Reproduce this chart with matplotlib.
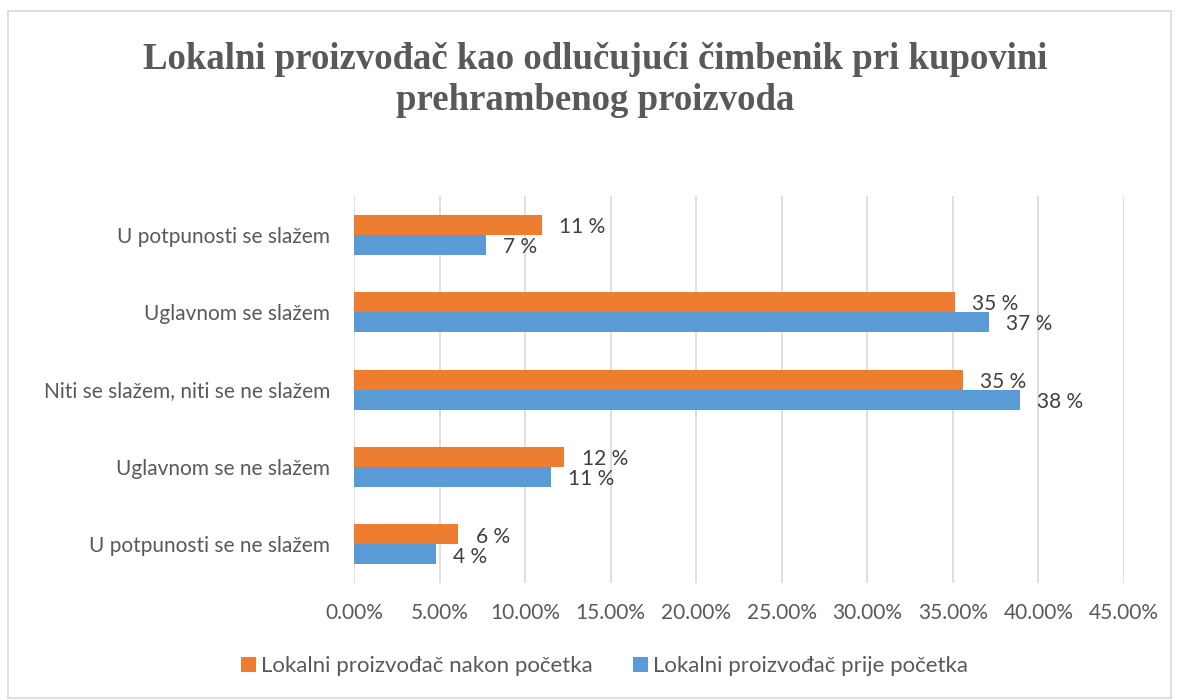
import matplotlib.pyplot as plt
import numpy as np
from matplotlib.patches import Rectangle

categories = ['U potpunosti se slažem', 'Uglavnom se slažem', 'Niti se slažem, niti se ne slažem',
              'Uglavnom se ne slažem', 'U potpunosti se ne slažem']
nakon = [11.0, 35.1, 35.6, 12.3, 6.1]
prije = [7.7, 37.1, 38.9, 11.5, 4.8]
nakon_labels = ['11 %', '35 %', '35 %', '12 %', '6 %']
prije_labels = ['7 %', '37 %', '38 %', '11 %', '4 %']
xticks = [0, 5, 10, 15, 20, 25, 30, 35, 40, 45]

orange = '#ED7D31'
blue = '#5B9BD5'
gray = '#595959'
plt.rcParams['font.family'] = ['Lato', 'DejaVu Sans']

fig = plt.figure(figsize=(11.79, 7), dpi=100)
ax = fig.add_axes([0.3003, 0.167, 0.653, 0.553])

y = np.arange(len(categories))
h = 0.258
ax.barh(y - h / 2, nakon, height=h, color=orange, label='Lokalni proizvođač nakon početka', zorder=3)
ax.barh(y + h / 2, prije, height=h, color=blue, label='Lokalni proizvođač prije početka', zorder=3)

for i in range(len(categories)):
    ax.text(nakon[i] + 1.0, y[i] - h / 2 + 0.03, nakon_labels[i], va='center', ha='left',
            fontsize=15, color='#404040')
    ax.text(prije[i] + 1.0, y[i] + h / 2 + 0.03, prije_labels[i], va='center', ha='left',
            fontsize=15, color='#404040')

ax.set_xlim(0, 45)
ax.set_ylim(len(categories) - 0.5, -0.5)
ax.set_xticks(xticks)
ax.set_xticklabels([f'{v:.2f}%' for v in xticks], fontsize=15, color=gray)
ax.set_yticks(y)
ax.set_yticklabels(categories, fontsize=15, color=gray)
ax.tick_params(axis='x', length=0, pad=14)
ax.tick_params(axis='y', length=0, pad=17)
ax.grid(axis='x', color='#d9d9d9', linewidth=1.2, zorder=0)
for s in ax.spines.values():
    s.set_visible(False)

fig.text(0.505, 0.886, 'Lokalni proizvođač kao odlučujući čimbenik pri kupovini\nprehrambenog proizvoda',
         ha='center', va='center', fontsize=26.5, fontweight='bold', color=gray,
         family=['Liberation Serif', 'DejaVu Serif'], linespacing=1.2)

handles, labels = ax.get_legend_handles_labels()
fig.legend(handles, labels, loc='center', bbox_to_anchor=(0.513, 0.048), ncol=2, frameon=False,
           fontsize=16, labelcolor=gray, handlelength=0.65, handleheight=0.65,
           handletextpad=0.25, columnspacing=1.8)

fig.patches.append(Rectangle((8 / 1179, 0.003), 1 - 16 / 1179, 1 - 13 / 700, transform=fig.transFigure,
                             fill=False, edgecolor='#d9d9d9', linewidth=1.2))

fig.savefig('out.png', dpi=100)
